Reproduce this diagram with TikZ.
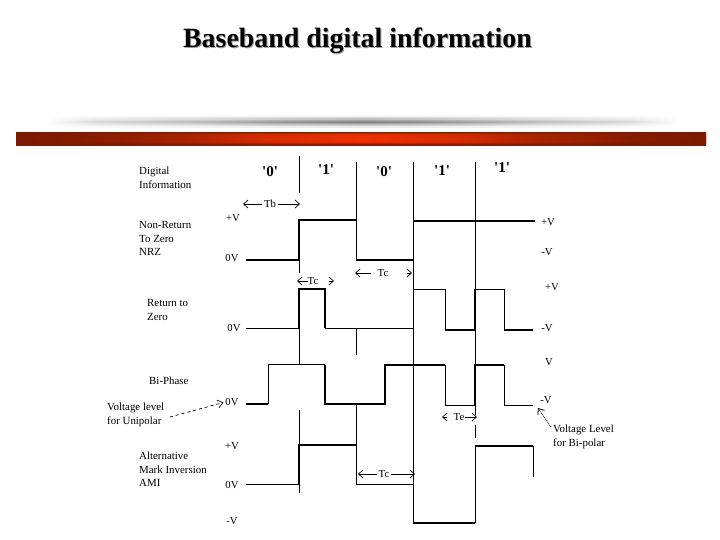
\documentclass[tikz,border=0pt]{standalone}
\usepackage{fontspec}
\setmainfont{Liberation Serif}
\newfontfamily\bitfont{Liberation Serif}
\usetikzlibrary{arrows.meta}
\definecolor{barend}{RGB}{122,26,0}
\definecolor{barhot}{RGB}{240,48,0}
\definecolor{bardark}{RGB}{125,28,0}
\colorlet{gmid}{black!50}
\colorlet{rmid}{barhot}
\pgfdeclarehorizontalshading[gmid]{greyrow}{100bp}{color(0bp)=(white);color(25bp)=(white);color(29bp)=(gmid!30!white);color(37bp)=(gmid!55!white);color(44bp)=(gmid!85!white);color(50bp)=(gmid);color(56bp)=(gmid!85!white);color(63bp)=(gmid!55!white);color(71bp)=(gmid!30!white);color(75bp)=(white);color(100bp)=(white)}
\pgfdeclarehorizontalshading[rmid]{redrow}{100bp}{color(0bp)=(barend);color(25bp)=(barend);color(31bp)=(rmid!12!barend);color(37bp)=(rmid!40!barend);color(43bp)=(rmid!80!barend);color(50bp)=(rmid);color(57bp)=(rmid!80!barend);color(63bp)=(rmid!40!barend);color(69bp)=(rmid!12!barend);color(75bp)=(barend);color(100bp)=(barend)}
\begin{document}
\begin{tikzpicture}[x=1pt,y=-1pt,
  lab/.style={inner sep=0pt,anchor=west,align=left,font=\fontsize{10.9}{13.5}\selectfont},
  volt/.style={inner sep=0pt,anchor=center,font=\fontsize{10.7}{13}\selectfont},
  bitl/.style={inner sep=0pt,anchor=center,font=\bitfont\bfseries\fontsize{15}{15}\selectfont},
  thinw/.style={line width=1pt,line cap=butt,line join=miter},
  thickw/.style={line width=2pt,line cap=butt,line join=miter},
  grid/.style={line width=0.9pt},
  dim/.style={-{Straight Barb[length=4.5pt,width=8pt]},line width=0.7pt},
  headonly/.style={-{Straight Barb[length=4.5pt,width=8pt]},line width=0.7pt}
]
\useasboundingbox (0,0) rectangle (720,540);
\fill[white] (0,0) rectangle (720,540);
% title
\node[inner sep=0pt,anchor=base,text=black!35,font=\bfseries\fontsize{27.9}{28}\selectfont] (titleshadow) at (358.5,48.5) {Baseband digital information};
\node[inner sep=0pt,anchor=base,font=\bfseries\fontsize{27.9}{28}\selectfont] (title) at (357.5,47.5) {Baseband digital information};
% grey band
\foreach \y/\g in {116/3,117/5,118/16,119/22,120/26,121/36,122/46,123/48,124/38,125/28,126/20,127/8}{
  \colorlet{gmid}{black!\g}
  \shade[shading=greyrow] (45,\y) rectangle (680,\y+1);
}
% red bar
\foreach \y/\c in {133/5,134/55,135/85,136/97,137/100,138/100,139/100,140/100,141/100,142/97,143/85,144/50,145/10}{
  \colorlet{rmid}{barhot!\c!bardark}
  \shade[shading=redrow] (16,\y) rectangle (706,\y+1);
}
% vertical bit boundaries
\draw[grid] (299,156) -- (299,193) (299,220) -- (299,273) (299,288) -- (299,364) (299,410) -- (299,493);
\draw[grid] (356.5,162) -- (356.5,260) (356.5,328) -- (356.5,355) (356.5,403) -- (356.5,484);
\draw[grid] (413,162) -- (413,522);
\draw[grid] (475,162) -- (475,415) (475,425) -- (475,438) (475,446) -- (475,522);
% NRZ
\draw[thickw] (246,260) -- (299,260) -- (299,220) -- (356.5,220);
\draw[thinw] (356.5,220) -- (356.5,260);
\draw[thickw] (355.5,260) -- (413,260);
\draw[thinw] (413,260) -- (413,221);
\draw[thickw] (413,221) -- (535,221);
% RZ
\draw[thinw] (246,328) -- (299,328);
\draw[thickw] (299,328) -- (299,289) -- (325,289) -- (325,328);
\draw[thinw] (325,328) -- (413,328) -- (413,289) -- (445,289) -- (445,330);
\draw[thickw] (445,330) -- (475,330) -- (475,289);
\draw[thinw] (475,289) -- (504,289) -- (504,330);
\draw[thickw] (504,330) -- (533,330);
% Bi-Phase
\draw[thickw] (246,403.5) -- (268,403.5);
\draw[thinw] (268,403.5) -- (268,364.5) -- (325,364.5);
\draw[thickw] (325,364.5) -- (325,403.5) -- (385,403.5) -- (385,365) -- (445,365);
\draw[thinw] (445,365) -- (445,405) -- (475,405);
\draw[thickw] (475,405) -- (475,365) -- (504,365);
\draw[thinw] (504,365) -- (504,405.5) -- (533,405.5);
% AMI
\draw[thinw] (246,484.5) -- (299,484.5);
\draw[thickw] (299,484.5) -- (299,445) -- (356.5,445);
\draw[thinw] (356.5,445) -- (356.5,484.5) -- (413,484.5) -- (413,522.5);
\draw[thickw] (413,522.5) -- (475,522.5);
\draw[thinw] (475,522.5) -- (475,446);
\draw[thickw] (475,446) -- (533,446);
\draw[thinw] (533,446) -- (533,477);
% left labels
\node[lab] (digi) at (139,178) {Digital\\Information};
\node[lab] (nrz) at (139,238.5) {Non-Return\\To Zero\\NRZ};
\node[lab] (rz) at (147,310) {Return to\\Zero};
\node[lab] (bi) at (149,381) {Bi-Phase};
\node[lab] (uni) at (107,415) {Voltage level\\for Unipolar};
\node[lab] (ami) at (139,469.5) {Alternative\\Mark Inversion\\AMI};
\node[lab] (bip) at (553,437) {Voltage Level\\for Bi-polar};
% bits
\node[bitl] (b0) at (270,172) {'0'};
\node[bitl] (b1) at (326,170) {'1'};
\node[bitl] (b2) at (384,172) {'0'};
\node[bitl] (b3) at (442,171) {'1'};
\node[bitl] (b4) at (502,168) {'1'};
% voltages left
\node[volt] (v1) at (233,218) {+V};
\node[volt] (v2) at (232,258) {0V};
\node[volt] (v3) at (234,328) {0V};
\node[volt] (v4) at (232,402) {0V};
\node[volt] (v5) at (232,446) {+V};
\node[volt] (v6) at (232,485) {0V};
\node[volt] (v7) at (232,521) {-V};
% voltages right
\node[volt] (r1) at (548,222) {+V};
\node[volt] (r2) at (547,252) {-V};
\node[volt] (r3) at (552,287) {+V};
\node[volt] (r4) at (547,328) {-V};
\node[volt] (r5) at (549,362) {V};
\node[volt] (r6) at (546,400) {-V};
% time marks
\node[volt] (tb) at (270,204) {Tb};
\coordinate (tbl) at (243,204); \coordinate (tbr) at (300,204);
\draw[dim,shorten <=2pt] (tb) -- (tbl); \draw[dim,shorten <=2pt] (tb) -- (tbr);
\node[volt] (tc1) at (313,281) {Tc};
\coordinate (tc1l) at (297,281); \coordinate (tc1s) at (329,281); \coordinate (tc1r) at (334,281);
\draw[dim] (tc1) -- (tc1l); \draw[headonly] (tc1s) -- (tc1r);
\node[volt] (tc2) at (383,273) {Tc};
\coordinate (tc2l) at (355,273); \coordinate (tc2m) at (371,273); \coordinate (tc2s) at (407,273); \coordinate (tc2r) at (412,273);
\draw[dim] (tc2m) -- (tc2l); \draw[headonly] (tc2s) -- (tc2r);
\node[volt] (te) at (459,417) {Te};
\coordinate (tes) at (447,417); \coordinate (tel) at (442,417); \coordinate (ter) at (477,417);
\draw[headonly] (tes) -- (tel); \draw[dim,shorten <=1pt] (te) -- (ter);
\node[volt] (tc3) at (384,474) {Tc};
\coordinate (tc3l) at (358,474); \coordinate (tc3r) at (415,474);
\draw[dim,shorten <=2pt] (tc3) -- (tc3l); \draw[dim,shorten <=2pt] (tc3) -- (tc3r);
% pointers
\coordinate (uniS) at (170,417); \coordinate (biS) at (551,427); \coordinate (biE) at (538,408);
\draw[-{Straight Barb[length=5pt,width=8pt]},dashed,line width=0.7pt,shorten >=2pt] (uniS) -- (v4.west);
\draw[-{Straight Barb[length=5pt,width=8pt]},densely dotted,line width=0.8pt] (biS) -- (biE);
\end{tikzpicture}
\end{document}
